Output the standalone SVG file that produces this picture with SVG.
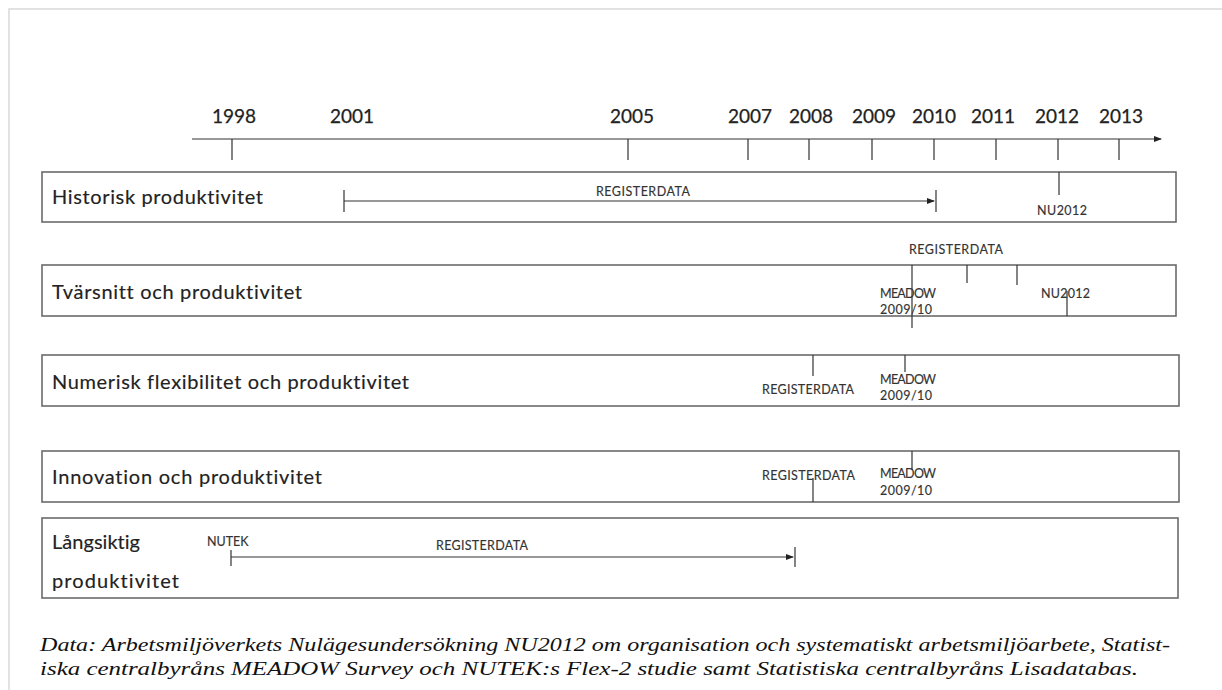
<svg xmlns="http://www.w3.org/2000/svg" width="1222" height="690" viewBox="0 0 1222 690">
  <defs>
    <marker id="arrow" markerWidth="8" markerHeight="6" refX="7" refY="3" orient="auto" markerUnits="userSpaceOnUse">
      <path d="M0,0 L8,3 L0,6 Z" fill="#222"/>
    </marker>
    <style>
      text { font-variant-ligatures: none; }
      .frame { stroke: #d9d9d9; stroke-width: 1.5; fill: none; }
      .box { fill: #fff; stroke: #6b6b6b; stroke-width: 1.6; }
      .ln { stroke: #333; stroke-width: 1.2; fill: none; }
      .year { font-family: Lato, "Open Sans", sans-serif; font-size: 19px; fill: #222; stroke: #222; stroke-width: 0.25; text-anchor: middle; }
      .title { font-family: Lato, "Open Sans", sans-serif; font-size: 20px; fill: #222; stroke: #222; stroke-width: 0.15; }
      .tag { font-family: Lato, "Open Sans", sans-serif; font-size: 12.5px; fill: #333; stroke: #333; stroke-width: 0.15; }
      .caption { font-family: "Liberation Serif", serif; font-style: italic; font-size: 19.5px; fill: #111; }
    </style>
  </defs>

  <rect width="1222" height="690" fill="#fff"/>
  <path class="frame" d="M9,690 V9 H1222"/>

  <!-- time axis -->
  <g id="axis">
    <path class="ln" d="M192,139 H1161" marker-end="url(#arrow)"/>
    <path class="ln" d="M232,139 V160 M628,139 V160 M748,139 V160 M809,139 V160 M872,139 V160 M934,139 V160 M996,139 V160 M1058,139 V160 M1119,139 V160"/>
    <text class="year" x="234" y="123">1998</text>
    <text class="year" x="352" y="123">2001</text>
    <text class="year" x="632" y="123">2005</text>
    <text class="year" x="750" y="123">2007</text>
    <text class="year" x="811" y="123">2008</text>
    <text class="year" x="874" y="123">2009</text>
    <text class="year" x="934" y="123">2010</text>
    <text class="year" x="993" y="123">2011</text>
    <text class="year" x="1057" y="123">2012</text>
    <text class="year" x="1121" y="123">2013</text>
  </g>

  <!-- row boxes -->
  <g id="row-historisk">
    <rect class="box" x="42" y="172" width="1134" height="50"/>
    <text class="title" x="52" y="204" textLength="211">Historisk produktivitet</text>
    <text class="tag" x="596" y="196" textLength="94">REGISTERDATA</text>
    <text class="tag" x="1037" y="215" textLength="50">NU2012</text>
  </g>

  <g id="row-tvarsnitt">
    <rect class="box" x="42" y="265" width="1134" height="51"/>
    <text class="title" x="52" y="299" textLength="250">Tvärsnitt och produktivitet</text>
    <text class="tag" x="909" y="254" textLength="94">REGISTERDATA</text>
    <text class="tag" x="880" y="298" textLength="56">MEADOW</text>
    <text class="tag" x="880" y="314" textLength="52">2009/10</text>
    <text class="tag" x="1041" y="298" textLength="49">NU2012</text>
  </g>

  <g id="row-numerisk">
    <rect class="box" x="42" y="355" width="1137" height="51"/>
    <text class="title" x="52" y="389" textLength="357">Numerisk flexibilitet och produktivitet</text>
    <text class="tag" x="762" y="394" textLength="92">REGISTERDATA</text>
    <text class="tag" x="880" y="384" textLength="56">MEADOW</text>
    <text class="tag" x="880" y="400" textLength="52">2009/10</text>
  </g>

  <g id="row-innovation">
    <rect class="box" x="42" y="451" width="1137" height="51"/>
    <text class="title" x="52" y="484" textLength="270">Innovation och produktivitet</text>
    <text class="tag" x="762" y="480" textLength="93">REGISTERDATA</text>
    <text class="tag" x="880" y="478" textLength="56">MEADOW</text>
    <text class="tag" x="880" y="495" textLength="52">2009/10</text>
  </g>

  <g id="row-langsiktig">
    <rect class="box" x="42" y="518" width="1136" height="80"/>
    <text class="title" x="52" y="549" textLength="88">Långsiktig</text>
    <text class="title" x="52" y="588" textLength="127">produktivitet</text>
    <text class="tag" x="207" y="546" font-size="11">NUTEK</text>
    <text class="tag" x="436" y="550" textLength="92">REGISTERDATA</text>
  </g>

  <!-- data spans and markers -->
  <g id="connectors">
    <!-- Historisk: register data 2001-2010, NU2012 -->
    <path class="ln" d="M344,190 V212"/>
    <path class="ln" d="M344,201 H934" marker-end="url(#arrow)"/>
    <path class="ln" d="M936,190 V212"/>
    <path class="ln" d="M1059,172 V195"/>
    <!-- Tvärsnitt -->
    <path class="ln" d="M912,265 V328"/>
    <path class="ln" d="M967,265 V283"/>
    <path class="ln" d="M1017,265 V285"/>
    <path class="ln" d="M1067,291 V316"/>
    <!-- Numerisk -->
    <path class="ln" d="M813,355 V376"/>
    <path class="ln" d="M905,355 V372"/>
    <!-- Innovation -->
    <path class="ln" d="M912,451 V470"/>
    <path class="ln" d="M813,478 V502"/>
    <!-- Långsiktig: NUTEK and register data -->
    <path class="ln" d="M231,550 V566"/>
    <path class="ln" d="M231,557 H793" marker-end="url(#arrow)"/>
    <path class="ln" d="M795,547 V567"/>
  </g>

  <g id="caption">
    <text class="caption" x="40" y="651" textLength="1130" lengthAdjust="spacingAndGlyphs">Data: Arbetsmiljöverkets Nulägesundersökning NU2012 om organisation och systematiskt arbetsmiljöarbete, Statist-</text>
    <text class="caption" x="40" y="675" textLength="1098" lengthAdjust="spacingAndGlyphs">iska centralbyråns MEADOW Survey och NUTEK:s Flex-2 studie samt Statistiska centralbyråns Lisadatabas.</text>
  </g>
</svg>
